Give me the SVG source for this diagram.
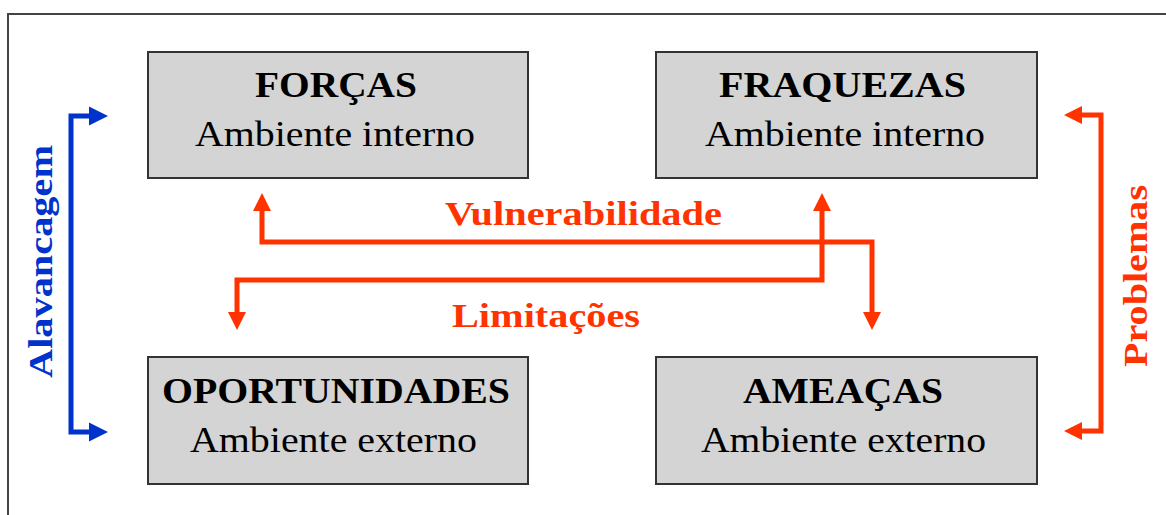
<svg xmlns="http://www.w3.org/2000/svg" width="1166" height="515" viewBox="0 0 1166 515">
<style>
.box{fill:#d4d4d4;stroke:#333;stroke-width:2}
.t{font-family:"Liberation Serif","Times New Roman",serif;fill:#000}
.ttl{font-size:36px;font-weight:bold}
.sub{font-size:35px}
.lbl{font-family:"Liberation Serif","Times New Roman",serif;font-weight:bold;font-size:34px}
.red{fill:#ff3300}
.blue{fill:#0033cc}
.rl{fill:none;stroke:#ff3300;stroke-width:5;stroke-linejoin:miter}
.bl{fill:none;stroke:#0033cc;stroke-width:5;stroke-linejoin:miter}
</style>
<defs>
<marker id="ar" viewBox="0 -10 20 20" refX="0" refY="0" markerWidth="20" markerHeight="20" markerUnits="userSpaceOnUse" orient="auto-start-reverse">
<path d="M0,-9 L18,0 L0,9 z" fill="#ff3300"/>
</marker>
<marker id="ab" viewBox="0 -10 20 20" refX="0" refY="0" markerWidth="20" markerHeight="20" markerUnits="userSpaceOnUse" orient="auto-start-reverse">
<path d="M0,-9.5 L19,0 L0,9.5 z" fill="#0033cc"/>
</marker>
</defs>
<rect width="1166" height="515" fill="#fff"/>
<rect x="8" y="14" width="1170" height="520" fill="none" stroke="#444" stroke-width="2"/>

<g id="forcas">
<rect class="box" x="148" y="52" width="380" height="126"/>
<text class="t ttl" x="255" y="97" textLength="162" lengthAdjust="spacingAndGlyphs">FORÇAS</text>
<text class="t sub" x="195" y="146" textLength="280" lengthAdjust="spacingAndGlyphs">Ambiente interno</text>
</g>
<g id="fraquezas">
<rect class="box" x="656" y="52" width="381" height="126"/>
<text class="t ttl" x="719" y="97" textLength="247" lengthAdjust="spacingAndGlyphs">FRAQUEZAS</text>
<text class="t sub" x="705" y="146" textLength="280" lengthAdjust="spacingAndGlyphs">Ambiente interno</text>
</g>
<g id="oportunidades">
<rect class="box" x="148" y="357" width="380" height="127"/>
<text class="t ttl" x="162" y="403" textLength="348" lengthAdjust="spacingAndGlyphs">OPORTUNIDADES</text>
<text class="t sub" x="190" y="452" textLength="287" lengthAdjust="spacingAndGlyphs">Ambiente externo</text>
</g>
<g id="ameacas">
<rect class="box" x="656" y="357" width="381" height="127"/>
<text class="t ttl" x="743" y="403" textLength="200" lengthAdjust="spacingAndGlyphs">AMEAÇAS</text>
<text class="t sub" x="701" y="452" textLength="285" lengthAdjust="spacingAndGlyphs">Ambiente externo</text>
</g>

<g id="connectors">
<path class="bl" d="M89,116 H71 V432 H89" marker-start="url(#ab)" marker-end="url(#ab)"/>
<path class="rl" d="M1082,115 H1101 V431 H1082" marker-start="url(#ar)" marker-end="url(#ar)"/>
<path class="rl" d="M262,211 V242 H872 V312" marker-start="url(#ar)" marker-end="url(#ar)"/>
<path class="rl" d="M237,312 V280 H822 V211" marker-start="url(#ar)" marker-end="url(#ar)"/>
</g>

<g id="labels">
<text class="lbl red" x="445" y="225" textLength="277" lengthAdjust="spacingAndGlyphs">Vulnerabilidade</text>
<text class="lbl red" x="452" y="327" textLength="188" lengthAdjust="spacingAndGlyphs">Limitações</text>
<text class="lbl blue" transform="translate(52,261.5) rotate(-90)" text-anchor="middle" textLength="233" lengthAdjust="spacingAndGlyphs">Alavancagem</text>
<text class="lbl red" transform="translate(1147,276) rotate(-90)" text-anchor="middle" textLength="182" lengthAdjust="spacingAndGlyphs">Problemas</text>
</g>
</svg>
